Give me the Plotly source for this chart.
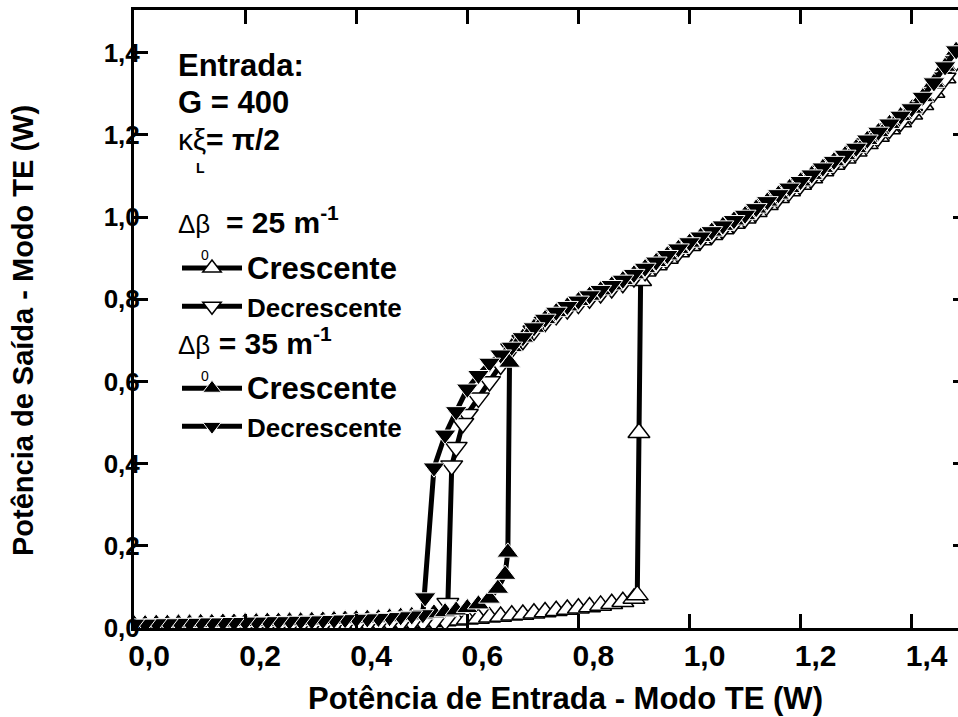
import plotly.graph_objects as go

# ---------------- data ----------------
# lower (low-transmission) branch, dBeta0 = 35 m^-1
X_LOW35 = [0.00, 0.02, 0.04, 0.06, 0.08, 0.10, 0.12, 0.14, 0.16, 0.18, 0.20, 0.22, 0.24,
           0.26, 0.28, 0.30, 0.32, 0.34, 0.36, 0.38, 0.40, 0.42, 0.44, 0.46, 0.48, 0.50,
           0.52, 0.54, 0.56, 0.58, 0.60, 0.62, 0.64, 0.655, 0.668, 0.673]
Y_LOW35 = [0.010, 0.010, 0.011, 0.011, 0.012, 0.012, 0.013, 0.013, 0.014, 0.014, 0.015,
           0.015, 0.016, 0.016, 0.017, 0.017, 0.018, 0.019, 0.020, 0.021, 0.022, 0.023,
           0.024, 0.026, 0.028, 0.030, 0.033, 0.036, 0.039, 0.043, 0.049, 0.058, 0.072,
           0.096, 0.130, 0.184]

# lower branch, dBeta0 = 25 m^-1
X_LOW25 = [0.00, 0.02, 0.04, 0.06, 0.08, 0.10, 0.12, 0.14, 0.16, 0.18, 0.20, 0.22, 0.24,
           0.26, 0.28, 0.30, 0.32, 0.34, 0.36, 0.38, 0.40, 0.42, 0.44, 0.46, 0.48, 0.50,
           0.52, 0.54, 0.56, 0.58, 0.60, 0.62, 0.64, 0.66, 0.68, 0.70, 0.72, 0.74, 0.76,
           0.78, 0.80, 0.82, 0.84, 0.86, 0.88, 0.90]
Y_LOW25 = [0.002, 0.002, 0.002, 0.002, 0.003, 0.003, 0.003, 0.003, 0.004, 0.004, 0.004,
           0.004, 0.005, 0.005, 0.005, 0.006, 0.006, 0.007, 0.007, 0.008, 0.008, 0.009,
           0.010, 0.011, 0.012, 0.013, 0.014, 0.015, 0.017, 0.019, 0.021, 0.023, 0.026,
           0.028, 0.031, 0.033, 0.036, 0.039, 0.042, 0.045, 0.048, 0.051, 0.055, 0.059,
           0.064, 0.072]

# upper (high-transmission) branch
X_UP = [0.68, 0.70, 0.72, 0.74, 0.76, 0.78, 0.80, 0.82, 0.84, 0.86, 0.88, 0.90, 0.92, 0.94,
        0.96, 0.98, 1.00, 1.02, 1.04, 1.06, 1.08, 1.10, 1.12, 1.14, 1.16, 1.18, 1.20, 1.22,
        1.24, 1.26, 1.28, 1.30, 1.32, 1.34, 1.36, 1.38, 1.40, 1.42, 1.44, 1.46, 1.48]
Y_UP35 = [0.684, 0.707, 0.731, 0.752, 0.769, 0.783, 0.796, 0.809, 0.822, 0.834, 0.847,
          0.861, 0.876, 0.891, 0.907, 0.923, 0.938, 0.952, 0.965, 0.979, 0.992, 1.005,
          1.021, 1.038, 1.055, 1.071, 1.087, 1.103, 1.120, 1.136, 1.151, 1.168, 1.188,
          1.207, 1.227, 1.246, 1.264, 1.292, 1.327, 1.366, 1.405]
Y_UP25 = [0.680, 0.700, 0.723, 0.744, 0.761, 0.775, 0.788, 0.801, 0.814, 0.826, 0.839,
          0.853, 0.868, 0.883, 0.899, 0.915, 0.930, 0.944, 0.957, 0.971, 0.984, 0.997,
          1.013, 1.030, 1.047, 1.063, 1.079, 1.095, 1.112, 1.128, 1.143, 1.160, 1.178,
          1.196, 1.214, 1.231, 1.250, 1.273, 1.303, 1.338, 1.378]

# upper branch end before the downward switching
X_TAIL35 = [0.54, 0.56, 0.58, 0.60, 0.62, 0.64, 0.66]
Y_TAIL35 = [0.390, 0.470, 0.527, 0.582, 0.615, 0.645, 0.665]
X_TAIL25 = [0.572, 0.58, 0.592, 0.60, 0.62, 0.64, 0.66]
Y_TAIL25 = [0.395, 0.440, 0.498, 0.520, 0.560, 0.600, 0.640]

# switching (vertical) segments
X_JUMP35_UP = [0.676]
Y_JUMP35_UP = [0.646]
X_JUMP25_UP = [0.906, 0.909, 0.912]
Y_JUMP25_UP = [0.080, 0.475, 0.845]
X_DROP35 = [0.524]
Y_DROP35 = [0.074]
X_DROP25 = [0.565]
Y_DROP25 = [0.060]

XTICKS = [0.0, 0.2, 0.4, 0.6, 0.8, 1.0, 1.2, 1.4]
XTICKTEXT = ["0,0", "0,2", "0,4", "0,6", "0,8", "1,0", "1,2", "1,4"]
YTICKS = [0.0, 0.2, 0.4, 0.6, 0.8, 1.0, 1.2, 1.4]
YTICKTEXT = ["0,0", "0,2", "0,4", "0,6", "0,8", "1,0", "1,2", "1,4"]

# ---------------- assemble series ----------------
up25 = [(x, y) for x, y in zip(X_UP, Y_UP25) if x >= 0.92]
c25_x = X_LOW25 + X_JUMP25_UP + [p[0] for p in up25]
c25_y = Y_LOW25 + Y_JUMP25_UP + [p[1] for p in up25]

d25_x = X_UP[::-1] + X_TAIL25[::-1] + X_DROP25 + [x for x in X_LOW25 if x <= 0.56][::-1]
d25_y = Y_UP25[::-1] + Y_TAIL25[::-1] + Y_DROP25 + [y for x, y in zip(X_LOW25, Y_LOW25) if x <= 0.56][::-1]

c35_x = X_LOW35 + X_JUMP35_UP + X_UP
c35_y = Y_LOW35 + Y_JUMP35_UP + Y_UP35

d35_x = X_UP[::-1] + X_TAIL35[::-1] + X_DROP35 + [x for x in X_LOW35 if x <= 0.52][::-1]
d35_y = Y_UP35[::-1] + Y_TAIL35[::-1] + Y_DROP35 + [y for x, y in zip(X_LOW35, Y_LOW35) if x <= 0.52][::-1]

FONT = "Liberation Sans, Arial, sans-serif"
MS = 19
LW = 5

fig = go.Figure()
fig.add_trace(go.Scatter(
    x=c25_x, y=c25_y, mode="lines+markers",
    name='<span style="font-size:31px">Crescente</span>', legendgroup="g25",
    line=dict(color="black", width=LW),
    marker=dict(symbol="triangle-up", size=MS, color="white", line=dict(color="black", width=1.5))))
fig.add_trace(go.Scatter(
    x=d25_x, y=d25_y, mode="lines+markers",
    name='<span style="font-size:26px">Decrescente</span>', legendgroup="g25",
    line=dict(color="black", width=LW),
    marker=dict(symbol="triangle-down", size=MS, color="white", line=dict(color="black", width=1.5))))
fig.add_trace(go.Scatter(
    x=c35_x, y=c35_y, mode="lines+markers",
    name='<span style="font-size:31px">Crescente</span>', legendgroup="g35",
    line=dict(color="black", width=LW),
    marker=dict(symbol="triangle-up", size=MS, color="black", line=dict(color="white", width=1))))
fig.add_trace(go.Scatter(
    x=d35_x, y=d35_y, mode="lines+markers",
    name='<span style="font-size:26px">Decrescente</span>', legendgroup="g35",
    line=dict(color="black", width=LW),
    marker=dict(symbol="triangle-down", size=MS, color="black", line=dict(color="white", width=1))))
# empty trace so the right-hand tick axis is always drawn
fig.add_trace(go.Scatter(x=[], y=[], yaxis="y2", showlegend=False, hoverinfo="skip"))

W, H = 958, 717
L, R, T, B = 134, 0, 10, 89
PW, PH = W - L - R, H - T - B


def px(x):
    return (x - L) / PW


def py(y):
    return (H - B - y) / PH


annotations = [
    dict(text="<b>Entrada:</b>", x=px(176), y=py(65), font=dict(size=31)),
    dict(text="<b>G = 400</b>", x=px(176), y=py(102), font=dict(size=31)),
    dict(text="κξ<b>= π/2</b>", x=px(176), y=py(139), font=dict(size=30)),
    dict(text="<b>L</b>", x=px(194), y=py(168), font=dict(size=14)),
    dict(text='<span style="font-size:26px">Δβ\u00a0</span><b> = 25 m<sup>-1</sup></b>',
         x=px(176), y=py(220), font=dict(size=30)),
    dict(text="0", x=px(199), y=py(255), font=dict(size=14)),
    dict(text='<span style="font-size:26px">Δβ</span><b> = 35 m<sup>-1</sup></b>',
         x=px(176), y=py(341), font=dict(size=30)),
    dict(text="0", x=px(199), y=py(376), font=dict(size=14)),
    dict(text="<b>Potência de Entrada - Modo TE (W)</b>", x=px(565), y=py(698),
         xanchor="center", font=dict(size=31)),
    dict(text="<b>Potência de Saída - Modo TE (W)</b>", x=px(23), y=py(331),
         xanchor="center", textangle=-90, font=dict(size=29)),
]
for a in annotations:
    a.setdefault("xanchor", "left")
    a.update(xref="paper", yref="paper", yanchor="middle", showarrow=False)
    a["font"].update(family=FONT, color="black")

axis_common = dict(showline=True, linewidth=3, linecolor="black", ticks="inside",
                   ticklen=14, tickwidth=3, tickcolor="black", showgrid=False,
                   zeroline=False)

fig.update_layout(
    width=W, height=H, margin=dict(l=L, r=R, t=T, b=B, pad=0),
    paper_bgcolor="white", plot_bgcolor="white",
    font=dict(family=FONT, color="black"),
    xaxis=dict(range=[0, (W - L) / 555.5], tickvals=XTICKS, ticktext=XTICKTEXT,
               mirror="ticks", tickfont=dict(size=30, weight="bold"),
               ticklabelshift=15, ticklabelstandoff=-1, **axis_common),
    yaxis=dict(range=[0, (H - B - T) / 411.0], tickvals=YTICKS, ticktext=YTICKTEXT,
               tickfont=dict(size=26, weight="bold"), ticklabelstandoff=-14,
               **axis_common),
    yaxis2=dict(overlaying="y", side="right", range=[0, (H - B - T) / 411.0],
                tickvals=YTICKS, showticklabels=False, showline=False, ticks="inside",
                ticklen=5, tickwidth=3, tickcolor="black", showgrid=False, zeroline=False),
    showlegend=True,
    legend=dict(x=px(177), y=py(244), xanchor="left", yanchor="top",
                bgcolor="rgba(0,0,0,0)", traceorder="grouped", tracegroupgap=44,
                itemwidth=60, font=dict(family=FONT, size=27, weight="bold")),
    annotations=annotations,
)

fig.write_html("out.html")
